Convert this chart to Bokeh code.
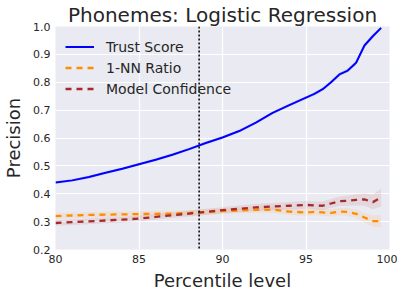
from bokeh.plotting import figure
from bokeh.models import ColumnDataSource, Span, Legend, LegendItem, FixedTicker, Range1d
from bokeh.embed import file_html
from bokeh.resources import INLINE

# ---- data ----
percentile = [80, 81, 82, 83, 84, 85, 86, 87, 88, 89, 90, 91, 92, 93, 94, 95,
              95.5, 96, 96.5, 97, 97.5, 98, 98.5, 99, 99.5]
trust_score = [0.440, 0.448, 0.460, 0.475, 0.490, 0.506, 0.522, 0.540, 0.560, 0.582,
               0.602, 0.625, 0.655, 0.690, 0.718, 0.745, 0.758, 0.775, 0.800, 0.828,
               0.842, 0.870, 0.932, 0.965, 0.995]
nn_ratio = [0.320, 0.322, 0.324, 0.325, 0.326, 0.327, 0.328, 0.329, 0.331, 0.334,
            0.338, 0.340, 0.342, 0.343, 0.336, 0.333, 0.335, 0.333, 0.331, 0.336,
            0.335, 0.328, 0.315, 0.302, 0.302]
model_conf = [0.295, 0.298, 0.301, 0.304, 0.307, 0.311, 0.317, 0.323, 0.329, 0.335,
              0.341, 0.346, 0.351, 0.354, 0.357, 0.360, 0.358, 0.357, 0.365, 0.373,
              0.375, 0.378, 0.380, 0.370, 0.386]
trust_err = [0.005, 0.005, 0.005, 0.005, 0.005, 0.005, 0.005, 0.005, 0.005, 0.005,
             0.005, 0.005, 0.005, 0.005, 0.006, 0.006, 0.006, 0.006, 0.007, 0.007,
             0.007, 0.008, 0.008, 0.008, 0.006]
nn_err = [0.010, 0.010, 0.010, 0.010, 0.010, 0.010, 0.010, 0.010, 0.010, 0.010,
          0.010, 0.010, 0.011, 0.011, 0.012, 0.012, 0.012, 0.012, 0.013, 0.013,
          0.014, 0.015, 0.017, 0.020, 0.022]
conf_err = [0.010, 0.010, 0.010, 0.010, 0.010, 0.010, 0.010, 0.010, 0.011, 0.011,
            0.011, 0.012, 0.012, 0.013, 0.013, 0.014, 0.014, 0.015, 0.016, 0.017,
            0.018, 0.020, 0.022, 0.026, 0.032]
cutoff = 88.6
x_ticks = [80, 85, 90, 95, 100]
y_ticks = [0.2, 0.3, 0.4, 0.5, 0.6, 0.7, 0.8, 0.9, 1.0]

TXT = "#262626"
FONT = "DejaVu Sans"

p = figure(frame_width=334, frame_height=223, output_backend="svg", toolbar_location=None,
           x_range=Range1d(80, 100), y_range=Range1d(0.2, 1.0),
           min_border_left=46, min_border_right=8, min_border_top=19, min_border_bottom=39,
           background_fill_color="#EAEAF2", border_fill_color="white",
           title="Phonemes: Logistic Regression")
p.outline_line_color = None

p.title.text_font = FONT
p.title.text_font_size = "20px"
p.title.text_font_style = "normal"
p.title.text_color = TXT
p.title.align = "center"
p.title.standoff = 0

p.xgrid.grid_line_color = "white"
p.ygrid.grid_line_color = "white"
p.xgrid.grid_line_width = 1.2
p.ygrid.grid_line_width = 1.2

for ax in (p.xaxis[0], p.yaxis[0]):
    ax.axis_line_color = None
    ax.major_tick_line_color = None
    ax.minor_tick_line_color = None
    ax.major_tick_out = 0
    ax.major_tick_in = 0
    ax.minor_tick_out = 0
    ax.minor_tick_in = 0
    ax.major_label_text_font = FONT
    ax.major_label_text_font_size = "11px"
    ax.major_label_text_color = TXT
    ax.axis_label_text_font = FONT
    ax.axis_label_text_font_size = "18px"
    ax.axis_label_text_font_style = "normal"
    ax.axis_label_text_color = TXT
    ax.major_label_standoff = 5

p.xaxis.ticker = FixedTicker(ticks=x_ticks)
p.yaxis.ticker = FixedTicker(ticks=y_ticks)
p.yaxis.major_label_overrides = {v: f"{v:.1f}" for v in y_ticks}
p.xaxis.axis_label = "Percentile level"
p.yaxis.axis_label = "Precision"
p.xaxis.axis_label_standoff = 4
p.yaxis.axis_label_standoff = 6

def band(y, e):
    return [a - b for a, b in zip(y, e)], [a + b for a, b in zip(y, e)]

series = [
    ("Trust Score", trust_score, trust_err, "blue", "solid", 2.0),
    ("1-NN Ratio", nn_ratio, nn_err, "darkorange", "6 5", 2.3),
    ("Model Confidence", model_conf, conf_err, "brown", "6 5", 2.3),
]
items = []
for name, y, e, col, dash, lw in series:
    lo, hi = band(y, e)
    p.varea(x=percentile, y1=lo, y2=hi, fill_color=col, fill_alpha=0.1)
for name, y, e, col, dash, lw in series:
    r = p.line(percentile, y, line_color=col, line_width=lw, line_dash=dash)
    items.append(LegendItem(label=name, renderers=[r]))

p.add_layout(Span(location=cutoff, dimension="height", line_color="black",
                  line_width=1.5, line_dash="2 2"))

legend = Legend(items=items, location="top_left", margin=0, padding=10,
                glyph_width=29, glyph_height=21, label_height=21, spacing=0,
                label_standoff=12, background_fill_alpha=0, border_line_alpha=0,
                label_text_font=FONT, label_text_font_size="14px", label_text_color=TXT)
p.add_layout(legend)

open("out.html", "w").write(file_html(p, INLINE))
